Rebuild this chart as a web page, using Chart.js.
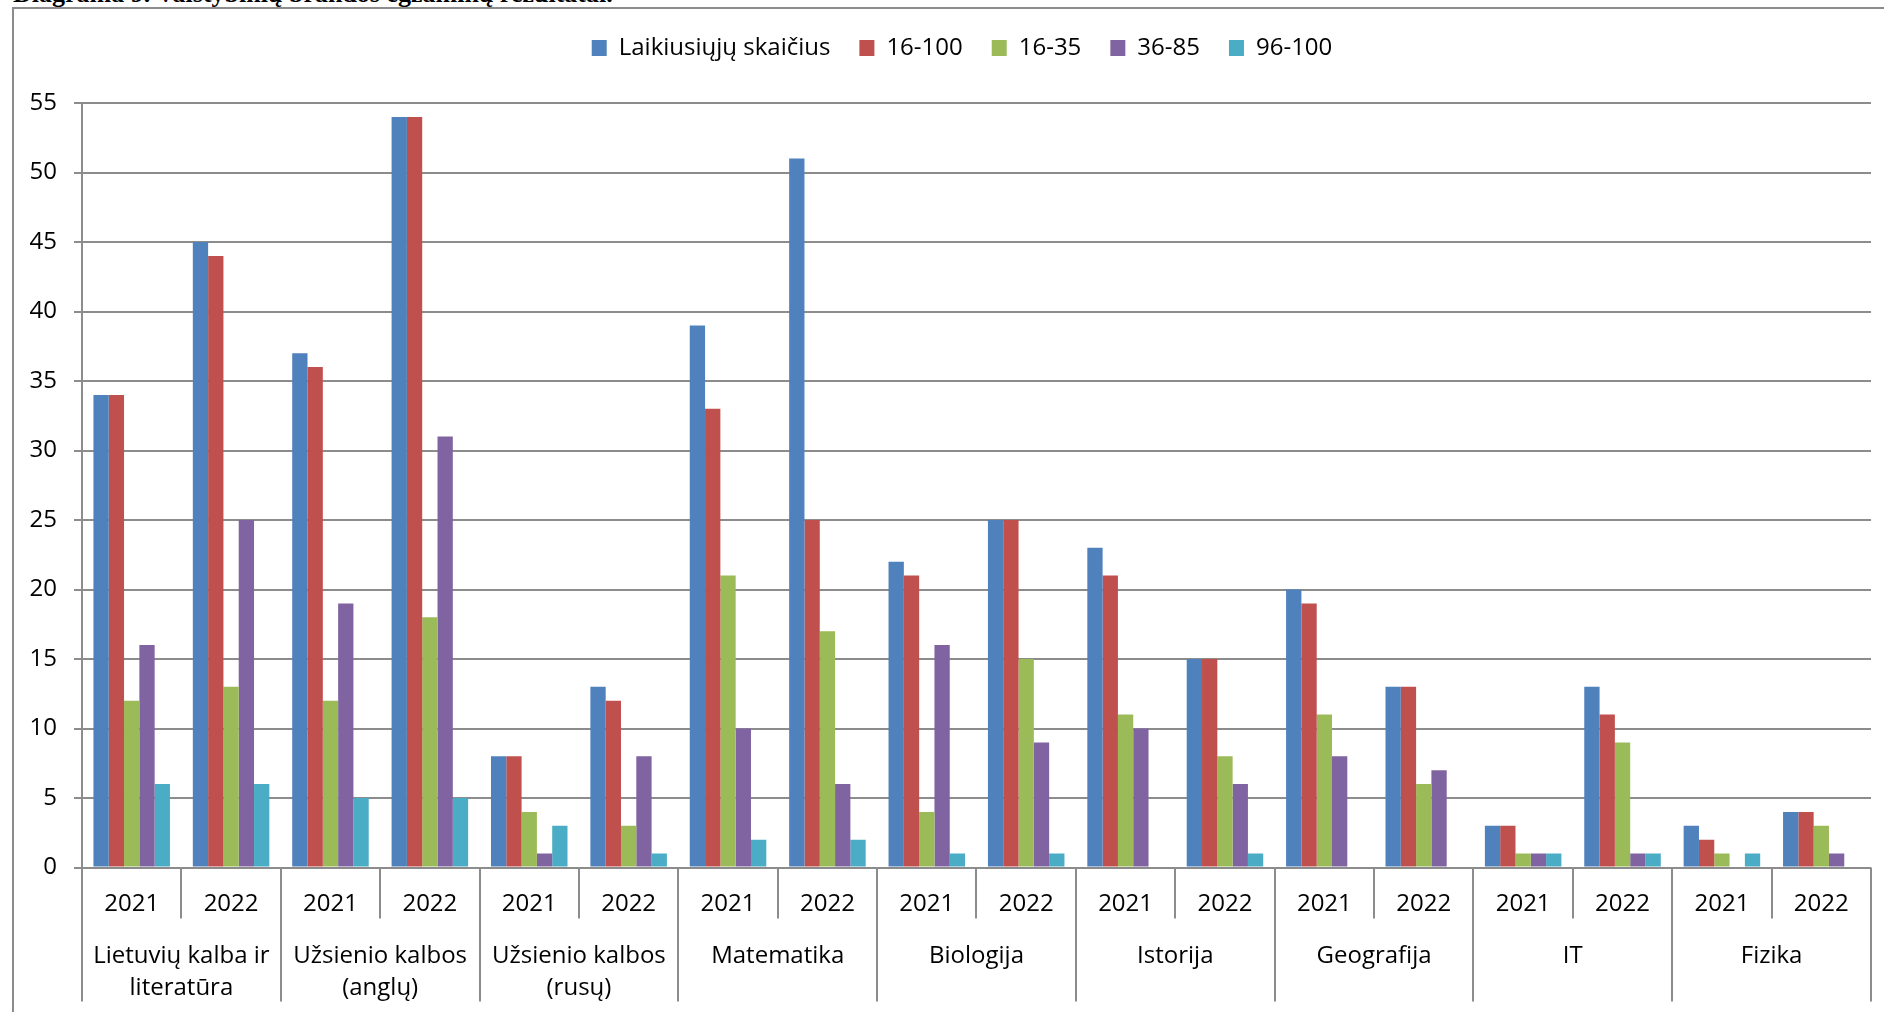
<!DOCTYPE html>
<html>
<head>
<meta charset="utf-8">
<script src="https://cdn.jsdelivr.net/npm/chart.js@4.4.0/dist/chart.umd.min.js"></script>
<style>
    html, body { margin: 0; padding: 0; background: #fff; overflow: hidden; width: 1884px; height: 1012px; }
    #title { position: absolute; left: 13px; top: -19px; font: bold 26px "Liberation Serif", serif; line-height: 26px; white-space: nowrap; color: #000; }
    #frame { position: absolute; left: 12px; top: 7px; width: 2000px; height: 1100px; border: 2px solid #8c8c8c; box-sizing: border-box; }
    #wrap { position: absolute; left: 0; top: 0; width: 1884px; height: 1012px; }
</style>
</head>
<body>
<div id="title">Diagrama 9. Valstybinių brandos egzaminų rezultatai.</div>
<div id="frame"></div>
<div id="wrap"><canvas id="chart" width="1884" height="1012"></canvas></div>
<script>
// dalykai (antra ašies eilutė) ir metai (pirma eilutė)
var subjects = [
    ['Lietuvių kalba ir', 'literatūra'],
    ['Užsienio kalbos', '(anglų)'],
    ['Užsienio kalbos', '(rusų)'],
    ['Matematika'],
    ['Biologija'],
    ['Istorija'],
    ['Geografija'],
    ['IT'],
    ['Fizika']
];
var years = ['2021', '2022'];

var seriesNames = ['Laikiusiųjų skaičius', '16-100', '16-35', '36-85', '96-100'];
var seriesColors = ['#4F81BD', '#C0504D', '#9BBB59', '#8064A2', '#4BACC6'];

var laikiusiuju = [34, 45, 37, 54, 8, 13, 39, 51, 22, 25, 23, 15, 20, 13, 3, 13, 3, 4];
var nuo16iki100 = [34, 44, 36, 54, 8, 12, 33, 25, 21, 25, 21, 15, 19, 13, 3, 11, 2, 4];
var nuo16iki35  = [12, 13, 12, 18, 4, 3, 21, 17, 4, 15, 11, 8, 11, 6, 1, 9, 1, 3];
var nuo36iki85  = [16, 25, 19, 31, 1, 8, 10, 6, 16, 9, 10, 6, 8, 7, 1, 1, 0, 1];
var nuo96iki100 = [6, 6, 5, 5, 3, 1, 2, 2, 1, 1, 0, 1, 0, 0, 1, 1, 1, 0];

var yMin = 0;
var yMax = 55;
var yStep = 5;

var gridColor = '#8c8c8c';
var fontFamily = '"Open Sans", sans-serif';
var fontSize = 24;

var labels = [];
subjects.forEach(function () {
    years.forEach(function (y) { labels.push(y); });
});

var seriesData = [laikiusiuju, nuo16iki100, nuo16iki35, nuo36iki85, nuo96iki100];

// dviejų lygių kategorijų ašis: metai, dalykai ir skiriamosios linijos
var axisLabelsPlugin = {
    id: 'axisLabels',
    afterDraw: function (chart) {
        var ctx = chart.ctx;
        var xs = chart.scales.x;
        var area = chart.chartArea;
        var n = labels.length;
        var half = (xs.getPixelForValue(1) - xs.getPixelForValue(0)) / 2;

        ctx.save();
        ctx.strokeStyle = gridColor;
        ctx.lineWidth = 2;
        for (var i = 0; i <= n; i++) {
            var px = i < n ? xs.getPixelForValue(i) - half : xs.getPixelForValue(n - 1) + half;
            px = Math.round(px);
            var bottom = (i % 2 === 0) ? area.bottom + 134 : area.bottom + 51;
            ctx.beginPath();
            ctx.moveTo(px, area.bottom);
            ctx.lineTo(px, bottom);
            ctx.stroke();
        }

        ctx.fillStyle = '#000';
        ctx.font = fontSize + 'px ' + fontFamily;
        ctx.textAlign = 'center';
        ctx.textBaseline = 'middle';
        for (var j = 0; j < n; j++) {
            ctx.fillText(labels[j], xs.getPixelForValue(j), area.bottom + 36.5);
        }
        subjects.forEach(function (lines, k) {
            var cx = (xs.getPixelForValue(2 * k) + xs.getPixelForValue(2 * k + 1)) / 2;
            lines.forEach(function (line, l) {
                ctx.fillText(line, cx, area.bottom + 88.5 + l * 32);
            });
        });
        ctx.restore();
    }
};

// daugiau vietos tarp legendos ir grafiko, legenda kiek dešiniau
var legendSpacePlugin = {
    id: 'legendSpace',
    beforeInit: function (chart) {
        var originalFit = chart.legend.fit;
        chart.legend.fit = function fit() {
            originalFit.bind(chart.legend)();
            this.height += 33;
            this.lineWidths[0] -= 53;
        };
    }
};

function drawChart() {
    var ctx = document.getElementById('chart').getContext('2d');
    new Chart(ctx, {
        type: 'bar',
        data: {
            labels: labels,
            datasets: seriesNames.map(function (name, i) {
                return {
                    label: name,
                    data: seriesData[i],
                    backgroundColor: seriesColors[i],
                    borderWidth: 0,
                    barPercentage: 1,
                    categoryPercentage: 0.77
                };
            })
        },
        options: {
            responsive: false,
            animation: false,
            devicePixelRatio: 1,
            layout: { padding: { top: 7, left: 0, right: 13, bottom: 0 } },
            plugins: {
                legend: {
                    position: 'top',
                    labels: {
                        boxWidth: 15,
                        boxHeight: 16,
                        padding: 29,
                        color: '#000',
                        font: { family: fontFamily, size: fontSize }
                    }
                },
                tooltip: { enabled: false }
            },
            scales: {
                x: {
                    ticks: { display: false },
                    grid: { display: false },
                    border: { display: false },
                    afterFit: function (scale) { scale.height = 144.5; }
                },
                y: {
                    min: yMin,
                    max: yMax,
                    ticks: {
                        stepSize: yStep,
                        color: '#000',
                        padding: 17,
                        font: { family: fontFamily, size: fontSize }
                    },
                    grid: { color: gridColor, lineWidth: 2, tickLength: 8, drawTicks: true },
                    border: { display: true, color: gridColor, width: 2 },
                    afterFit: function (scale) { scale.width = 82; }
                }
            }
        },
        plugins: [axisLabelsPlugin, legendSpacePlugin]
    });
}

if (document.fonts && document.fonts.load) {
    document.fonts.load(fontSize + 'px "Open Sans"').then(drawChart, drawChart);
} else {
    drawChart();
}
</script>
</body>
</html>
